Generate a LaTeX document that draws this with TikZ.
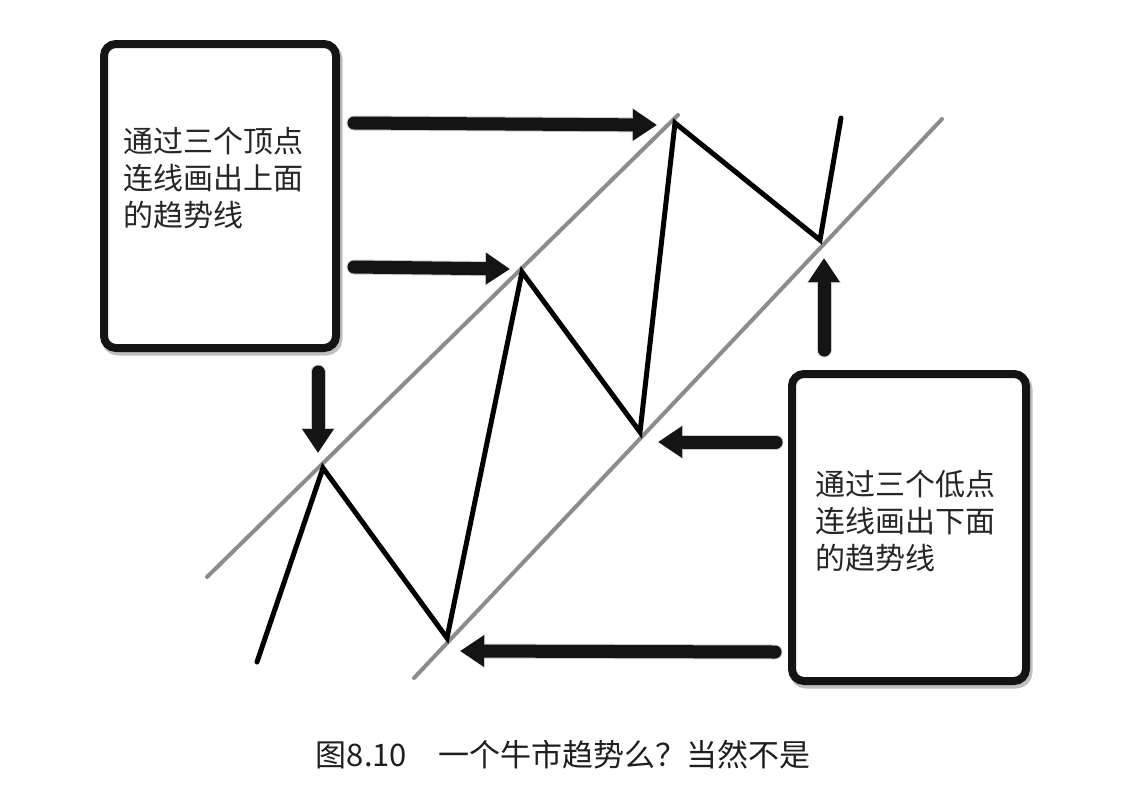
\documentclass[tikz,border=0pt]{standalone}
\usepackage{fontspec}
\newfontfamily\cjk{Noto Sans CJK SC}
\usetikzlibrary{arrows.meta}
\begin{document}
\begin{tikzpicture}[x=1pt,y=-1pt,
  callout/.style={draw=black!92, line width=8pt, rounded corners=12pt, fill=white, inner sep=0pt},
  calloutshadow/.style={draw=black!25, line width=9pt, rounded corners=12pt, inner sep=0pt},
  boxtext/.style={font=\cjk\fontsize{30}{37}\selectfont, text=black!85, align=left, anchor=west, inner sep=0pt},
  captiontext/.style={font=\cjk\fontsize{31}{37}\selectfont, text=black!88, inner sep=0pt},
  trend/.style={draw=black!45, line width=4pt, line cap=round},
  price/.style={draw=black, line width=5pt, line join=miter, line cap=round},
  bigarrow/.style={draw=black!92, line width=13pt, line cap=round, -{Triangle[width=30pt,length=24pt]}},
  arrowshadow/.style={draw=black!20, line width=15pt, line cap=round, -{Triangle[width=32pt,length=25pt]}},
]
\useasboundingbox (0,0) rectangle (1133,801);
\fill[white] (0,0) rectangle (1133,801);

% trend lines
\coordinate (u0) at (207,577);
\coordinate (u1) at (678,115);
\coordinate (l0) at (414,678);
\coordinate (l1) at (942,119);
\draw[trend] (u0) -- (u1);
\draw[trend] (l0) -- (l1);

% price zigzag
\coordinate (p0) at (257,662);
\coordinate (p1) at (323,468);
\coordinate (p2) at (447,638);
\coordinate (p3) at (522,272);
\coordinate (p4) at (640,432);
\coordinate (p5) at (675,123);
\coordinate (p6) at (820,240);
\coordinate (p7) at (841,118);
\draw[price] (p0) -- (p1) -- (p2) -- (p3) -- (p4) -- (p5) -- (p6) -- (p7);

% callout boxes
\node[calloutshadow, minimum width=232pt, minimum height=304pt] at (222,199) {};
\node[callout, minimum width=232pt, minimum height=304pt] (topbox) at (220,196) {};
\node[calloutshadow, minimum width=234pt, minimum height=307pt] at (911,530.5) {};
\node[callout, minimum width=234pt, minimum height=307pt] (lowbox) at (909,527.5) {};

\node[boxtext] (toptext) at (123,178) {通过三个顶点\\连线画出上面\\的趋势线};
\node[boxtext] (lowtext) at (815,521) {通过三个低点\\连线画出下面\\的趋势线};

% arrow endpoints
\coordinate (a1s) at (354,123);
\coordinate (a1e) at (657,125);
\coordinate (a2s) at (354,267);
\coordinate (a2e) at (510,269);
\coordinate (a3s) at (318,372);
\coordinate (a3e) at (318,453);
\coordinate (a4s) at (824,350);
\coordinate (a4e) at (824,258);
\coordinate (a5s) at (776,442);
\coordinate (a5e) at (658,442);
\coordinate (a6s) at (775,652);
\coordinate (a6e) at (460,651);

\foreach \s/\e in {a1s/a1e,a2s/a2e,a3s/a3e,a4s/a4e,a5s/a5e,a6s/a6e}{
  \draw[arrowshadow, shift={(1.5,2)}] (\s) -- (\e);
}
\foreach \s/\e in {a1s/a1e,a2s/a2e,a3s/a3e,a4s/a4e,a5s/a5e,a6s/a6e}{
  \draw[bigarrow] (\s) -- (\e);
}

% caption
\node[captiontext] (caption) at (563,755) {图8.10　一个牛市趋势么？当然不是};
\end{tikzpicture}
\end{document}
